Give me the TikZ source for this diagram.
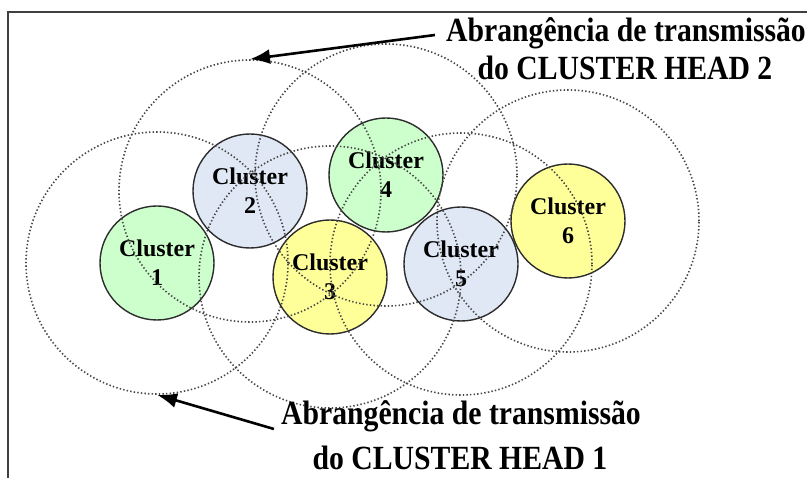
\documentclass[tikz,border=0pt]{standalone}
\usepackage{fontspec}
\setmainfont{Liberation Serif}
\usetikzlibrary{arrows.meta}
\definecolor{cgreen}{RGB}{204,255,204}
\definecolor{cblue}{RGB}{224,232,245}
\definecolor{cyellow}{RGB}{255,255,153}
\definecolor{cedge}{RGB}{45,45,45}
\definecolor{cdots}{RGB}{70,70,70}
\newcommand{\tallline}[1]{\scalebox{1}[1.14]{#1}}
\tikzset{
  clusternode/.style={circle, draw=cedge, line width=1.4pt, minimum size=114pt, inner sep=0pt,
    align=center, font=\fontsize{24}{29}\selectfont\bfseries},
  rangecircle/.style={circle, draw=cdots, line width=1.6pt, dash pattern=on 1.4pt off 2.2pt,
    minimum size=262pt, inner sep=0pt},
  biglabel/.style={anchor=base, inner sep=0pt, font=\fontsize{29.7}{34}\selectfont\bfseries},
  pointer/.style={line width=2.6pt, black, -{Latex[length=20pt,width=15pt]}},
  frameline/.style={line width=1.6pt, black!75}
}
\begin{document}
\begin{tikzpicture}[x=1pt,y=-1pt]
\useasboundingbox (0,0) rectangle (807,478);
\fill[white] (0,0) rectangle (807,478);
\draw[frameline] (8,478) -- (8,12) -- (807,12);
% clusters
\node[clusternode, fill=cgreen]  (c1) at (157,263) {Cluster\\1};
\node[clusternode, fill=cblue]   (c2) at (250,191) {Cluster\\2};
\node[clusternode, fill=cyellow] (c3) at (330,277) {Cluster\\3};
\node[clusternode, fill=cgreen]  (c4) at (386,175) {Cluster\\4};
\node[clusternode, fill=cblue]   (c5) at (461,264) {Cluster\\5};
\node[clusternode, fill=cyellow] (c6) at (568,221) {Cluster\\6};
% transmission ranges
\node[rangecircle] (r1) at (c1) {};
\node[rangecircle] (r2) at (c2) {};
\node[rangecircle] (r3) at (c3) {};
\node[rangecircle] (r4) at (c4) {};
\node[rangecircle] (r5) at (c5) {};
\node[rangecircle] (r6) at (c6) {};
% labels
\node[biglabel] (t2a) at (626,42) {\tallline{Abrangência de transmissão}};
\node[biglabel] (t2b) at (625,80) {\tallline{do CLUSTER HEAD 2}};
\node[biglabel] (t1a) at (461,425) {\tallline{Abrangência de transmissão}};
\node[biglabel] (t1b) at (460,470) {\tallline{do CLUSTER HEAD 1}};
% arrows
\coordinate (a2) at ([xshift=-11pt,yshift=7pt]t2a.base west);
\coordinate (a1) at ([xshift=-7pt,yshift=-4pt]t1a.base west);
\draw[pointer] (a2) -- (r2.north);
\draw[pointer] (a1) -- (r1.south);
\end{tikzpicture}
\end{document}
